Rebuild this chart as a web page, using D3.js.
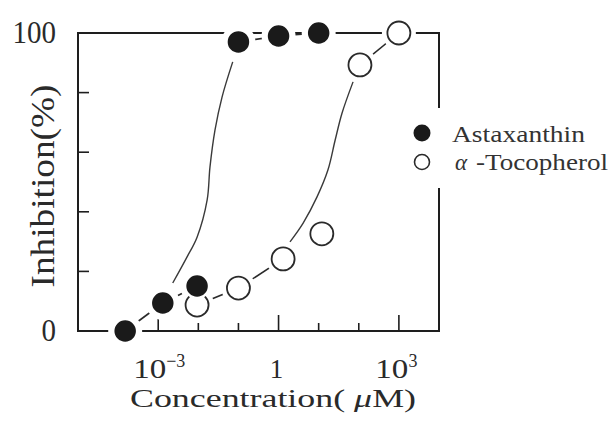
<!DOCTYPE html>
<html><head><meta charset="utf-8">
<script src="https://cdn.jsdelivr.net/npm/d3@7"></script>
<style>html,body{margin:0;padding:0;background:#fff;}svg{display:block;}</style>
</head><body>
<svg id="c" width="610" height="421"></svg>
<script>
// ---- data ----
const astaConc = [1.5e-4, 1.3e-3, 0.0093, 0.1, 1, 10];
const astaInh  = [0, 9.4, 15.1, 97, 99, 100];
const tocoConc = [0.0093, 0.1, 1.3, 12, 107, 1000];
const tocoInh  = [8.7, 14.4, 24.2, 32.6, 89.3, 100];
// hand-drawn fitted curves
const astaFitConc = [0.0023, 0.0052, 0.0093, 0.0166, 0.0195, 0.026, 0.039, 0.072];
const astaFitInh  = [16.1, 24.8, 31.5, 44, 55, 67.4, 78.5, 90.3];
const tocoFitConc = [1.93, 4.1, 9.1, 17, 25.7, 38, 72];
const tocoFitInh  = [29.9, 36.2, 45, 54, 64, 73, 83.6];
// marker pairs joined by straight segments
const astaLinks = [[0,1],[1,2],[3,4],[4,5]];
const tocoLinks = [[0,1],[1,2],[4,5]];
const xTickExp = [-4,-3,-2,-1,0,1,2,3];
const xLabelExp = [-3,0,3];
const yTicks = [0,20,40,60,80,100];
const yLabels = [0,100];
const seriesNames = ["Astaxanthin", "-Tocopherol"];

// ---- layout ----
const L=78, R=439, T=33, B=331;
const svg = d3.select("#c");
const x = d3.scaleLog().domain([1e-5,1e4]).range([L,R]);
const y = d3.scaleLinear().domain([0,100]).range([B,T]);
const ink = "#1e1e1e";
const txt = "#2a2a2a";
const font = "'Liberation Serif','DejaVu Serif',serif";

const g = svg.append("g");
// axes frame
g.append("line").attr("x1",L).attr("x2",R).attr("y1",B).attr("y2",B).attr("stroke",ink).attr("stroke-width",2);
g.append("line").attr("x1",L).attr("x2",R).attr("y1",T).attr("y2",T).attr("stroke",ink).attr("stroke-width",2);
g.append("line").attr("x1",L).attr("x2",L).attr("y1",T-1).attr("y2",B+1).attr("stroke",ink).attr("stroke-width",2);
g.append("line").attr("x1",R).attr("x2",R).attr("y1",T-1).attr("y2",108).attr("stroke",ink).attr("stroke-width",2);
g.append("line").attr("x1",R).attr("x2",R).attr("y1",188).attr("y2",B+1).attr("stroke",ink).attr("stroke-width",2);

// y ticks
g.selectAll(".yt").data(yTicks.filter(v=>v>0&&v<100)).enter().append("line")
  .attr("x1",L).attr("x2",L+11).attr("y1",d=>y(d)).attr("y2",d=>y(d)).attr("stroke",ink).attr("stroke-width",1.6);
// x ticks
g.selectAll(".xt").data(xTickExp).enter().append("line")
  .attr("x1",d=>x(Math.pow(10,d))).attr("x2",d=>x(Math.pow(10,d)))
  .attr("y1",B).attr("y2",d=>B-(xLabelExp.includes(d)?16:8)).attr("stroke",ink).attr("stroke-width",1.6);

// y labels
g.selectAll(".yl").data(yLabels).enter().append("text")
  .attr("x",56).attr("y",d=>y(d)+10).attr("text-anchor","end")
  .attr("font-family",font).attr("font-size",31).attr("fill",txt)
  .attr("textLength",d=>String(d).length*14.5).attr("lengthAdjust","spacingAndGlyphs")
  .text(d=>d);

// x labels
xLabelExp.forEach(e=>{
  const cx = x(Math.pow(10,e));
  const t = g.append("text").attr("y",378).attr("font-family",font).attr("font-size",27).attr("fill",txt);
  if(e===0){
    t.attr("x",cx-2).attr("text-anchor","middle").text("1");
  } else {
    const w = e<0 ? 60 : 43;
    t.attr("x",cx+(e<0?5:-2)-w/2);
    t.append("tspan").text("10").attr("textLength",33).attr("lengthAdjust","spacingAndGlyphs");
    t.append("tspan").attr("dy",-11).attr("font-size",18).text(e<0?"\u2212"+(-e):String(e));
  }
});

// axis titles
svg.append("text").attr("transform","translate(54,186) rotate(-90)").attr("text-anchor","middle")
  .attr("font-family",font).attr("font-size",33).attr("fill",txt)
  .attr("textLength",203).attr("lengthAdjust","spacingAndGlyphs").text("Inhibition(%)");
const xt = svg.append("text").attr("x",130).attr("y",407)
  .attr("font-family",font).attr("font-size",26).attr("fill",txt)
  .attr("textLength",286).attr("lengthAdjust","spacingAndGlyphs");
xt.append("tspan").text("Concentration( ");
xt.append("tspan").attr("font-style","italic").text("\u03bc");
xt.append("tspan").text("M)");

// fitted curves
const line = d3.line().x(d=>x(d[0])).y(d=>y(d[1])).curve(d3.curveCatmullRom.alpha(0.5));
svg.append("path").datum(d3.zip(astaFitConc,astaFitInh)).attr("d",line)
  .attr("fill","none").attr("stroke","#3a3a3a").attr("stroke-width",1.4);
svg.append("path").datum(d3.zip(tocoFitConc,tocoFitInh)).attr("d",line)
  .attr("fill","none").attr("stroke","#3a3a3a").attr("stroke-width",1.4);

// connecting segments
function links(conc,inh,pairs){
  svg.selectAll(null).data(pairs).enter().append("line")
    .attr("x1",p=>x(conc[p[0]])).attr("y1",p=>y(inh[p[0]]))
    .attr("x2",p=>x(conc[p[1]])).attr("y2",p=>y(inh[p[1]]))
    .attr("stroke","#2a2a2a").attr("stroke-width",1.6);
}
links(astaConc,astaInh,astaLinks);
links(tocoConc,tocoInh,tocoLinks);

// halos
const all = d3.zip(astaConc,astaInh).concat(d3.zip(tocoConc,tocoInh));
svg.selectAll(".halo").data(all).enter().append("circle")
  .attr("cx",d=>x(d[0])).attr("cy",d=>y(d[1])).attr("r",17).attr("fill","#fff");

// markers
svg.selectAll(".toco").data(d3.zip(tocoConc,tocoInh)).enter().append("circle")
  .attr("cx",d=>x(d[0])).attr("cy",d=>y(d[1])).attr("r",11.5)
  .attr("fill","#fff").attr("stroke","#2a2a2a").attr("stroke-width",1.8);
svg.selectAll(".asta").data(d3.zip(astaConc,astaInh)).enter().append("circle")
  .attr("cx",d=>x(d[0])).attr("cy",d=>y(d[1])).attr("r",12)
  .attr("fill","#1a1a1a").attr("stroke","#fff").attr("stroke-width",2.5);

// legend
svg.append("circle").attr("cx",422).attr("cy",133).attr("r",8.5).attr("fill","#1a1a1a");
svg.append("circle").attr("cx",422).attr("cy",162).attr("r",7.5).attr("fill","#fff").attr("stroke","#2a2a2a").attr("stroke-width",1.6);
svg.append("text").attr("x",452).attr("y",142).attr("font-family",font).attr("font-size",23).attr("fill","#333")
  .attr("textLength",133).attr("lengthAdjust","spacingAndGlyphs").text(seriesNames[0]);
const lt = svg.append("text").attr("x",455).attr("y",170).attr("font-family",font).attr("font-size",23).attr("fill","#333");
lt.append("tspan").attr("font-style","italic").text("\u03b1");
lt.append("tspan").attr("x",476).attr("textLength",132).attr("lengthAdjust","spacingAndGlyphs").text(seriesNames[1]);
</script>
</body></html>
